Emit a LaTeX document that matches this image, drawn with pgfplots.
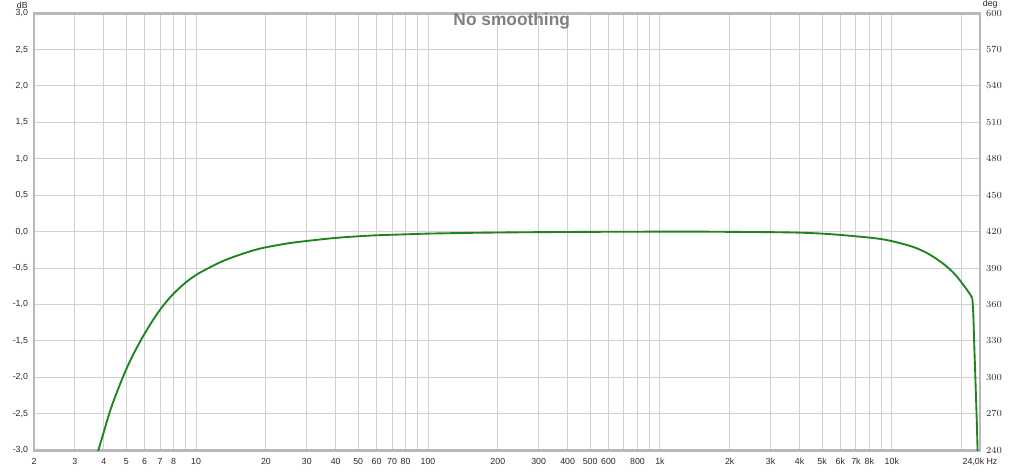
\documentclass[border=0pt]{standalone}
\usepackage{fontspec}
\setmainfont{Liberation Sans}
\usepackage{pgfplots}
\pgfplotsset{compat=1.18}
\usetikzlibrary{calc}
\definecolor{gridcol}{RGB}{208,208,208}
\definecolor{framecol}{RGB}{184,184,184}
\definecolor{labcol}{RGB}{40,40,40}
\definecolor{titlecol}{RGB}{128,128,128}
\definecolor{curvecol}{RGB}{30,132,30}
\newcommand{\tickfont}{\fontsize{6.6}{7.5}\selectfont}
\begin{document}
\begin{tikzpicture}
\begin{semilogxaxis}[
  scale only axis, width=709.5pt, height=327.75pt,
  xmin=2, xmax=24000, ymin=-3, ymax=3,
  xtick={2,3,4,5,6,7,8,10,20,30,40,50,60,70,80,100,200,300,400,500,600,800,1000,2000,3000,4000,5000,6000,7000,8000,10000,24000},
  xticklabels={2,3,4,5,6,7,8,10,20,30,40,50,60,70,80,100,200,300,400,500,600,800,1k,2k,3k,4k,5k,6k,7k,8k,10k,{24,0k Hz}},
  minor xtick={9,90,700,900,9000,20000},
  ytick={-3,-2.5,-2,-1.5,-1,-0.5,0,0.5,1,1.5,2,2.5,3},
  grid=both,
  major grid style={gridcol, line width=0.75pt},
  minor grid style={gridcol, line width=0.75pt},
  major tick length=0pt, minor tick length=0pt,
  axis line style={framecol, line width=2.2pt},
  ticklabel style={font=\tickfont, text=labcol},
  xticklabel style={yshift=-2.5pt},
  yticklabel style={xshift=-1pt, /pgf/number format/.cd, fixed, fixed zerofill, precision=1, use comma, assume math mode=true},
  log ticks with fixed point,
]
% low and mid band, smooth roll-off
\addplot[curvecol, line width=1.4pt, smooth, tension=0.5] coordinates {
  (3.70,-3.115) (3.79,-3.00) (4.0,-2.75) (4.2,-2.52) (4.4,-2.33) (4.6,-2.17)
  (4.86,-1.98) (5.2,-1.77) (5.6,-1.57) (6.0,-1.40) (6.5,-1.22)
  (7.0,-1.07) (7.5,-0.95) (8.0,-0.85) (9.0,-0.70) (10,-0.595) (11,-0.52)
  (12.7,-0.42) (14,-0.365) (16,-0.30) (18,-0.25) (20,-0.215) (25,-0.16)
  (30,-0.128) (40,-0.086) (50,-0.064) (60,-0.05) (80,-0.037) (100,-0.027)
  (150,-0.017) (200,-0.012) (300,-0.007) (500,-0.003) (800,-0.001)
  (1000,0.0) (1500,0.0) (2000,-0.003) (3000,-0.007) (4000,-0.014)
  (5000,-0.027) (6000,-0.045) (7000,-0.064) (8000,-0.082) (9000,-0.102)
  (10000,-0.13) (11000,-0.163) (12000,-0.197) (12750,-0.226) (14000,-0.285)
  (15000,-0.34) (16500,-0.43) (17760,-0.515) (19000,-0.61) (20000,-0.70)
  (21000,-0.79) (21900,-0.875) (22250,-0.92)
};
% steep drop at the top of the band
\addplot[curvecol, line width=1.4pt] coordinates {
  (22250,-0.92) (22450,-1.12) (22650,-1.52) (22950,-2.06)
  (23270,-2.65) (23450,-3.05)
};
\coordinate (SW) at (rel axis cs:0,0);
\coordinate (NE) at (rel axis cs:1,1);
\coordinate (NW) at (rel axis cs:0,1);
\coordinate (TT) at (rel axis cs:0.505,0.982);
\end{semilogxaxis}
\begin{axis}[
  scale only axis, width=709.5pt, height=327.75pt,
  xmin=0, xmax=1, ymin=240, ymax=600,
  hide x axis,
  axis y line*=right,
  axis line style={draw=none},
  ytick={240,270,...,600},
  major tick length=0pt,
  ticklabel style={font=\tickfont, text=labcol},
  yticklabel style={xshift=1pt},
]
\end{axis}
\node[font=\fontsize{13}{15}\selectfont\bfseries, text=titlecol] at (TT) {No smoothing};
\node[font=\tickfont, text=labcol, anchor=south east, inner sep=0pt] at ($(NW)+(-4.5pt,3.5pt)$) {dB};
\node[font=\tickfont, text=labcol, anchor=south west, inner sep=0pt] at ($(NE)+(2pt,3.5pt)$) {deg};
\path[use as bounding box] ($(SW)+(-25.5pt,-13.5pt)$) rectangle ($(NE)+(33pt,9.75pt)$);
\end{tikzpicture}
\end{document}
